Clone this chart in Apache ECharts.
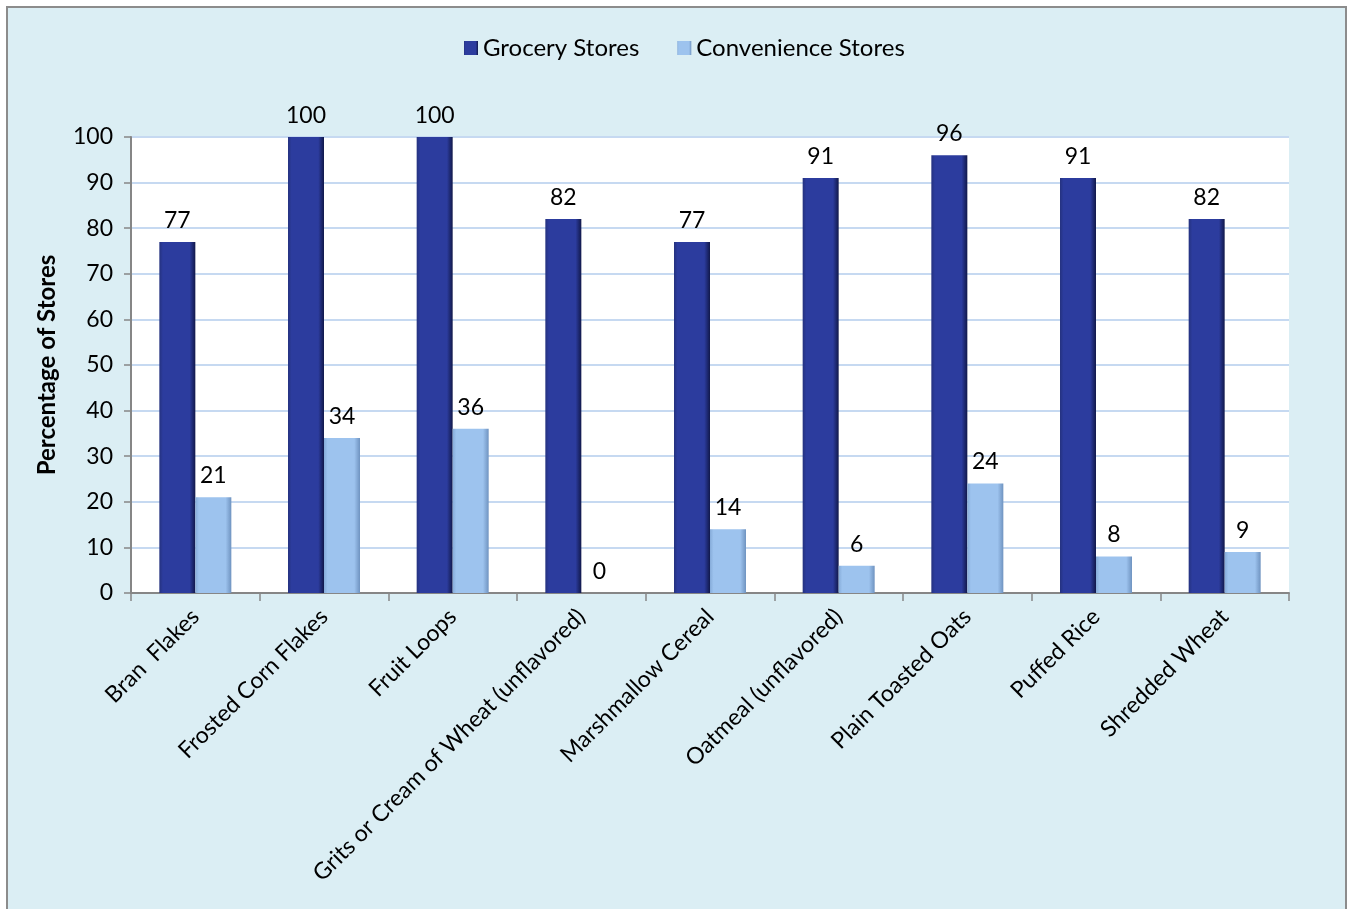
<!DOCTYPE html>
<html>
<head>
<meta charset="utf-8">
<script src="https://cdn.jsdelivr.net/npm/echarts@6/dist/echarts.min.js"></script>
<style>
  html, body { margin: 0; padding: 0; background: #ffffff; overflow: hidden; width: 1348px; height: 909px; }
  #frame { position: absolute; left: 6px; top: 6px; width: 1337px; height: 1000px;
           border: 2px solid #8c8c8c; background: #dbeef4; }
  #chart { position: absolute; left: 0; top: 0; width: 1337px; height: 901px; }
</style>
</head>
<body>
<div id="frame"><div id="chart"></div></div>
<script>
// Cereal availability by store type
const categories = [
  'Bran  Flakes',
  'Frosted Corn Flakes',
  'Fruit Loops',
  'Grits or Cream of Wheat (unflavored)',
  'Marshmallow Cereal',
  'Oatmeal (unflavored)',
  'Plain Toasted Oats',
  'Puffed Rice',
  'Shredded Wheat'
];
const groceryStores = [77, 100, 100, 82, 77, 91, 96, 91, 82];
const convenienceStores = [21, 34, 36, 0, 14, 6, 24, 8, 9];
const yTicks = { min: 0, max: 100, interval: 10 };

const FONT = 'Lato, "Open Sans", sans-serif';

function barGradient(edge, mid, shade) {
  return new echarts.graphic.LinearGradient(0, 0, 1, 0, [
    { offset: 0, color: edge },
    { offset: 0.1, color: mid },
    { offset: 0.84, color: mid },
    { offset: 1, color: shade }
  ]);
}

const chart = echarts.init(document.getElementById('chart'), null, { renderer: 'canvas' });

const labelStyle = {
  show: true,
  position: 'top',
  distance: 10,
  color: '#000',
  fontFamily: FONT,
  fontSize: 23
};

chart.setOption({
  backgroundColor: 'transparent',
  animation: false,
  textStyle: { fontFamily: FONT },
  legend: {
    left: 451,
    top: 23,
    itemWidth: 14,
    itemHeight: 14,
    itemGap: 38,
    icon: 'rect',
    textStyle: { color: '#000', fontSize: 24, fontFamily: FONT },
    data: ['Grocery Stores', 'Convenience Stores']
  },
  grid: {
    left: 123,
    top: 129,
    width: 1158,
    height: 456,
    show: true,
    backgroundColor: '#ffffff',
    borderWidth: 0,
    containLabel: false
  },
  xAxis: {
    type: 'category',
    data: categories,
    axisLine: { lineStyle: { color: '#868686', width: 2 } },
    axisTick: { show: true, length: 8, lineStyle: { color: '#868686', width: 1.5 } },
    axisLabel: {
      rotate: 45,
      margin: 20,
      interval: 0,
      color: '#000',
      fontSize: 23,
      fontFamily: FONT
    }
  },
  yAxis: {
    type: 'value',
    min: yTicks.min,
    max: yTicks.max,
    interval: yTicks.interval,
    name: 'Percentage of Stores',
    nameLocation: 'middle',
    nameRotate: 90,
    nameGap: 72,
    nameTextStyle: { color: '#000', fontSize: 24, fontWeight: 'bold', fontFamily: FONT },
    axisLine: { show: true, lineStyle: { color: '#868686', width: 2 } },
    axisTick: { show: true, length: 7, lineStyle: { color: '#868686', width: 1.5 } },
    axisLabel: { color: '#000', fontSize: 23, fontFamily: FONT, margin: 18 },
    splitLine: { show: true, lineStyle: { color: '#c6d9f1', width: 2 } }
  },
  series: [
    {
      name: 'Grocery Stores',
      type: 'bar',
      data: groceryStores,
      barWidth: 36,
      barGap: '0%',
      itemStyle: {
        color: barGradient('#25327f', '#2c3c9e', '#11184a')
      },
      label: labelStyle
    },
    {
      name: 'Convenience Stores',
      type: 'bar',
      data: convenienceStores,
      barWidth: 36,
      barGap: '0%',
      itemStyle: {
        color: barGradient('#86acd9', '#9dc3ee', '#6f93c0')
      },
      label: labelStyle
    }
  ]
});
</script>
</body>
</html>
